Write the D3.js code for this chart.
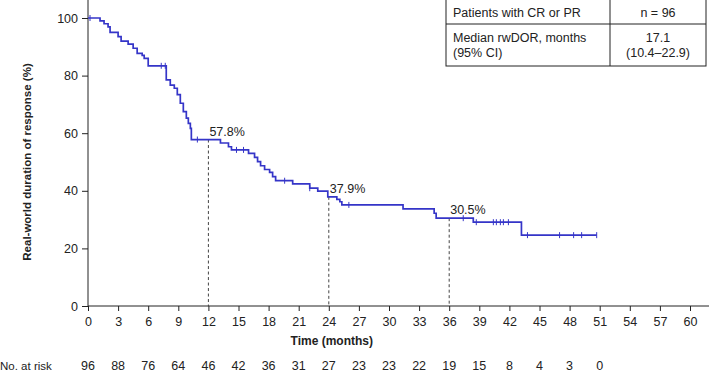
<!DOCTYPE html>
<html>
<head>
<meta charset="utf-8">
<script src="https://cdn.jsdelivr.net/npm/d3@7"></script>
<style>
  body { margin: 0; background: #fff; }
  svg { display: block; font-family: "Liberation Sans", Arial, sans-serif; }
  .tick text { font-size: 12.5px; fill: #222; }
  .tick line { stroke: #222; }
</style>
</head>
<body>
<div id="chart"></div>
<script>
// --- DATA ---
// step times (months) and the survival value just after each drop (%)
const stepTimes = [1.2, 1.6, 2.0, 2.2, 3.0, 3.3, 4.0, 4.5, 4.9, 5.4, 5.6, 6.0, 7.8, 8.2, 8.6, 8.9,
  9.2, 9.5, 9.8, 10.0, 10.2, 10.3, 13.2, 14.0, 14.3, 16.0, 16.6, 16.9, 17.2, 17.6, 18.1, 18.4,
  18.7, 20.4, 22.1, 22.9, 23.9, 24.8, 25.1, 25.3, 31.4, 34.5, 34.7, 38.4, 43.2];
const stepValues = [99.0, 98.0, 96.9, 95.0, 93.5, 92.0, 90.9, 89.5, 87.7, 87.0, 86.0, 83.4, 78.5, 76.7, 75.6, 73.4,
  70.4, 67.5, 65.2, 63.4, 61.7, 57.8, 56.6, 55.3, 54.2, 53.0, 51.6, 50.1, 48.7, 47.4, 46.4, 44.9,
  43.5, 42.4, 40.9, 39.9, 37.9, 37.0, 36.2, 35.1, 33.7, 32.2, 30.5, 29.1, 24.6];
const lastTime = 50.7;
const censorTimes = [0.2, 7.3, 7.7, 10.9, 14.8, 15.5, 19.6, 22.1, 26.0, 37.4, 38.7, 40.4, 40.7,
  41.1, 41.4, 41.9, 43.8, 47.0, 48.4, 49.2, 50.7];

const landmarkTimes = [12, 24, 36];
const landmarkLabels = ["57.8%", "37.9%", "30.5%"];

const xTicks = d3.range(0, 61, 3);
const yTicks = [0, 20, 40, 60, 80, 100];
const riskTimes = d3.range(0, 52, 3);
const riskCounts = [96, 88, 76, 64, 46, 42, 36, 31, 27, 23, 23, 22, 19, 15, 8, 4, 3, 0];

const tableRows = [
  { left: ["Patients with CR or PR"], right: ["n = 96"] },
  { left: ["Median rwDOR, months", "(95% CI)"], right: ["17.1", "(10.4\u201322.9)"] }
];

// --- SETUP ---
const width = 709, height = 378;
const blue = "#3535c8";

const svg = d3.select("#chart").append("svg")
  .attr("width", width).attr("height", height);

const x = d3.scaleLinear().domain([0, 60]).range([88, 690]);
const y = d3.scaleLinear().domain([0, 100]).range([306, 18]);

// value of the curve at time t
function survivalAt(t) {
  let v = 100;
  stepTimes.forEach((s, i) => { if (s <= t) v = stepValues[i]; });
  return v;
}

// --- AXES ---
const xAxis = svg.append("g")
  .attr("transform", `translate(0,${y(0)})`)
  .call(d3.axisBottom(x).tickValues(xTicks).tickSize(5).tickPadding(6).tickFormat(d3.format("d")));
xAxis.select(".domain").remove();
svg.append("line")
  .attr("x1", x(0)).attr("x2", width).attr("y1", y(0)).attr("y2", y(0))
  .attr("stroke", "#222");

const yAxis = svg.append("g")
  .attr("transform", `translate(${x(0)},0)`)
  .call(d3.axisLeft(y).tickValues(yTicks).tickSize(6).tickPadding(4));
yAxis.select(".domain").remove();
svg.append("line")
  .attr("x1", x(0)).attr("x2", x(0)).attr("y1", 0).attr("y2", y(0))
  .attr("stroke", "#222");

svg.append("text")
  .attr("x", x(24.3)).attr("y", 345)
  .attr("text-anchor", "middle")
  .style("font-size", "12px").style("font-weight", "bold").attr("fill", "#222")
  .text("Time (months)");

svg.append("text")
  .attr("transform", `translate(31,${y(50)}) rotate(-90)`)
  .attr("text-anchor", "middle")
  .style("font-size", "11.5px").style("font-weight", "bold").attr("fill", "#222")
  .text("Real-world duration of response (%)");

// --- LANDMARK DASHED LINES ---
landmarkTimes.forEach((t, i) => {
  svg.append("line")
    .attr("x1", x(t)).attr("x2", x(t))
    .attr("y1", y(survivalAt(t))).attr("y2", y(0))
    .attr("stroke", "#444").attr("stroke-width", 1)
    .attr("stroke-dasharray", "3,2.5");
  svg.append("text")
    .attr("x", x(t) + 1).attr("y", y(survivalAt(t)) - 4)
    .style("font-size", "12.5px").attr("fill", "#222")
    .text(landmarkLabels[i]);
});

// --- KM CURVE ---
const pts = [[0, 100]].concat(stepTimes.map((t, i) => [t, stepValues[i]]));
pts.push([lastTime, stepValues[stepValues.length - 1]]);
const line = d3.line().x(d => x(d[0])).y(d => y(d[1])).curve(d3.curveStepAfter);
svg.append("path")
  .datum(pts)
  .attr("d", line)
  .attr("fill", "none")
  .attr("stroke", blue).attr("stroke-width", 1.7);

svg.append("g").selectAll("line")
  .data(censorTimes)
  .join("line")
  .attr("x1", d => x(d)).attr("x2", d => x(d))
  .attr("y1", d => y(survivalAt(d)) - 3).attr("y2", d => y(survivalAt(d)) + 3)
  .attr("stroke", blue).attr("stroke-width", 1);

// --- RISK TABLE ---
svg.append("text")
  .attr("x", 0).attr("y", 370)
  .style("font-size", "11.5px").attr("fill", "#222")
  .text("No. at risk");
svg.append("g").selectAll("text")
  .data(riskCounts)
  .join("text")
  .attr("x", (d, i) => x(riskTimes[i])).attr("y", 370)
  .attr("text-anchor", "middle")
  .style("font-size", "12.5px").attr("fill", "#222")
  .text(d => d);

// --- INFO TABLE ---
const tb = { x0: 446, x1: 610, x2: 706, y0: 0, y1: 24, y2: 66 };
const box = svg.append("g");
box.append("rect")
  .attr("x", tb.x0).attr("y", tb.y0 - 1)
  .attr("width", tb.x2 - tb.x0).attr("height", tb.y2 - tb.y0 + 1)
  .attr("fill", "#fff").attr("stroke", "#222").attr("stroke-width", 1);
box.append("line").attr("x1", tb.x0).attr("x2", tb.x2).attr("y1", tb.y1).attr("y2", tb.y1).attr("stroke", "#222");
box.append("line").attr("x1", tb.x1).attr("x2", tb.x1).attr("y1", tb.y0).attr("y2", tb.y2).attr("stroke", "#222");

const rowTops = [tb.y0, tb.y1];
const rowBottoms = [tb.y1, tb.y2];
tableRows.forEach((r, i) => {
  const mid = (rowTops[i] + rowBottoms[i]) / 2;
  const lh = 15;
  const startY = mid - (r.left.length - 1) * lh / 2 + 4.5;
  r.left.forEach((s, j) => {
    box.append("text").attr("x", tb.x0 + 7).attr("y", startY + j * lh)
      .style("font-size", "12.5px").attr("fill", "#222").text(s);
  });
  r.right.forEach((s, j) => {
    box.append("text").attr("x", (tb.x1 + tb.x2) / 2).attr("y", startY + j * lh)
      .attr("text-anchor", "middle")
      .style("font-size", "12.5px").attr("fill", "#222").text(s);
  });
});
</script>
</body>
</html>
